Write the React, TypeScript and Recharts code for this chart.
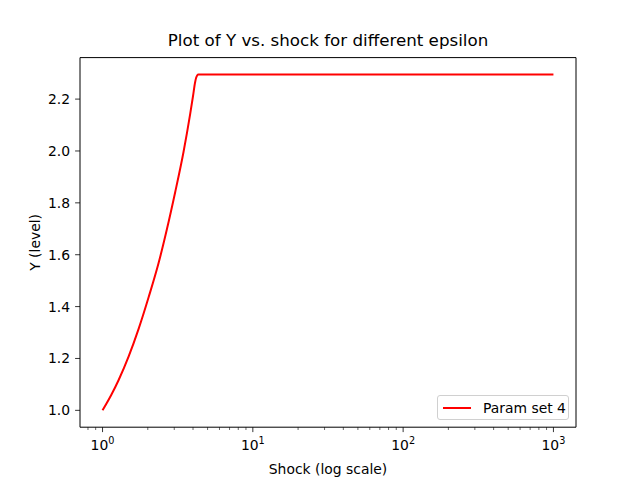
import { LineChart, Line, XAxis, YAxis, Legend } from 'recharts'

const shock = [1, 1.14, 1.28, 1.49, 1.74, 2.03, 2.36, 2.68, 3.04, 3.46, 3.83, 4.0, 4.13, 4.2, 4.27, 4.34, 10, 100, 1000]
const yLevel = [1.0, 1.058, 1.117, 1.207, 1.315, 1.438, 1.568, 1.698, 1.84, 1.997, 2.143, 2.212, 2.265, 2.283, 2.292, 2.295, 2.295, 2.295, 2.295]
const xMajorTicks = [1, 10, 100, 1000]
const xMinorTicks = [0.8, 0.9, 2, 3, 4, 5, 6, 7, 8, 9, 20, 30, 40, 50, 60, 70, 80, 90, 200, 300, 400, 500, 600, 700, 800, 900]
const yTicks = [1.0, 1.2, 1.4, 1.6, 1.8, 2.0, 2.2]
const seriesName = 'Param set 4'

const data = shock.map((x, i) => ({ shock: x, y: yLevel[i] }))
const xTicks = [...xMinorTicks, ...xMajorTicks].sort((a, b) => a - b)

const FONT = '"DejaVu Sans", sans-serif'
const X_DOMAIN = [0.708, 1413]
const Y_DOMAIN = [0.935, 2.36]

// matplotlib-style log tick: long tick + 10^n label on decades, short tick otherwise
const LogTick = ({ x, y, payload }: any) => {
  const exp = Math.log10(payload.value)
  const isMajor = Math.abs(exp - Math.round(exp)) < 1e-9
  return (
    <g>
      <line x1={x} x2={x} y1={y} y2={y + (isMajor ? 4.9 : 2.8)} stroke="#000" strokeWidth={isMajor ? 0.8 : 0.6} />
      {isMajor && (
        <text x={x} y={y + 23} textAnchor="middle" fontFamily={FONT} fontSize={13.9} fill="#000">
          <tspan>10</tspan>
          <tspan dy={-6} fontSize={9.7}>{Math.round(exp)}</tspan>
        </text>
      )}
    </g>
  )
}

const LegendBox = () => (
  <div
    style={{
      width: 132,
      height: 25,
      border: '1px solid #d0d0d0',
      borderRadius: 3,
      background: 'rgba(255,255,255,0.8)',
      display: 'flex',
      alignItems: 'center',
      boxSizing: 'border-box',
      fontFamily: FONT,
      fontSize: 13.9,
      color: '#000',
    }}
  >
    <div style={{ width: 28, height: 2, background: '#ff0000', marginLeft: 5, marginRight: 12 }} />
    <span>{seriesName}</span>
  </div>
)

export default function App() {
  return (
    <div style={{ position: 'fixed', left: 0, top: 0, width: 640, height: 480, background: '#fff' }}>
      <div
        style={{
          position: 'absolute',
          left: 0,
          width: 656,
          top: 30,
          textAlign: 'center',
          fontFamily: FONT,
          fontSize: 16.7,
          color: '#000',
          lineHeight: '20px',
        }}
      >
        Plot of Y vs. shock for different epsilon
      </div>
      <LineChart
        width={640}
        height={480}
        data={data}
        margin={{ top: 56.6, right: 63, bottom: 0, left: 30 }}
      >
        <XAxis
          xAxisId="major"
          dataKey="shock"
          type="number"
          scale="log"
          domain={X_DOMAIN}
          allowDataOverflow
          ticks={xTicks}
          interval={0}
          tick={<LogTick />}
          tickSize={0}
          tickMargin={0}
          tickLine={false}
          axisLine={{ stroke: '#000', strokeWidth: 1 }}
          height={52.8}
          label={{
            value: 'Shock (log scale)',
            position: 'insideBottom',
            offset: 6,
            fontFamily: FONT,
            fontSize: 13.9,
            fill: '#000',
          }}
        />
        <XAxis
          xAxisId="top"
          orientation="top"
          type="number"
          scale="log"
          domain={X_DOMAIN}
          allowDataOverflow
          tick={false}
          tickLine={false}
          axisLine={{ stroke: '#000', strokeWidth: 1 }}
          height={1}
        />
        <YAxis
          type="number"
          domain={Y_DOMAIN}
          allowDataOverflow
          ticks={yTicks}
          tickFormatter={(v: number) => v.toFixed(1)}
          tickSize={4.9}
          tickMargin={5}
          width={50}
          axisLine={{ stroke: '#000', strokeWidth: 1 }}
          tickLine={{ stroke: '#000', strokeWidth: 0.8 }}
          tick={{ fontFamily: FONT, fontSize: 13.9, fill: '#000' }}
          label={{
            value: 'Y (level)',
            angle: -90,
            position: 'insideLeft',
            offset: 5,
            fontFamily: FONT,
            fontSize: 13.9,
            fill: '#000',
            style: { textAnchor: 'middle' },
          }}
        />
        <YAxis
          yAxisId="right"
          orientation="right"
          type="number"
          domain={Y_DOMAIN}
          allowDataOverflow
          tick={false}
          tickLine={false}
          axisLine={{ stroke: '#000', strokeWidth: 1 }}
          width={1}
        />
        <Legend
          layout="horizontal"
          verticalAlign="middle"
          align="center"
          content={<LegendBox />}
          wrapperStyle={{ left: 437, top: 395, width: 132, height: 25 }}
        />
        <Line
          xAxisId="major"
          dataKey="y"
          name={seriesName}
          type="monotone"
          stroke="#ff0000"
          strokeWidth={2}
          dot={false}
          isAnimationActive={false}
        />
      </LineChart>
    </div>
  )
}
